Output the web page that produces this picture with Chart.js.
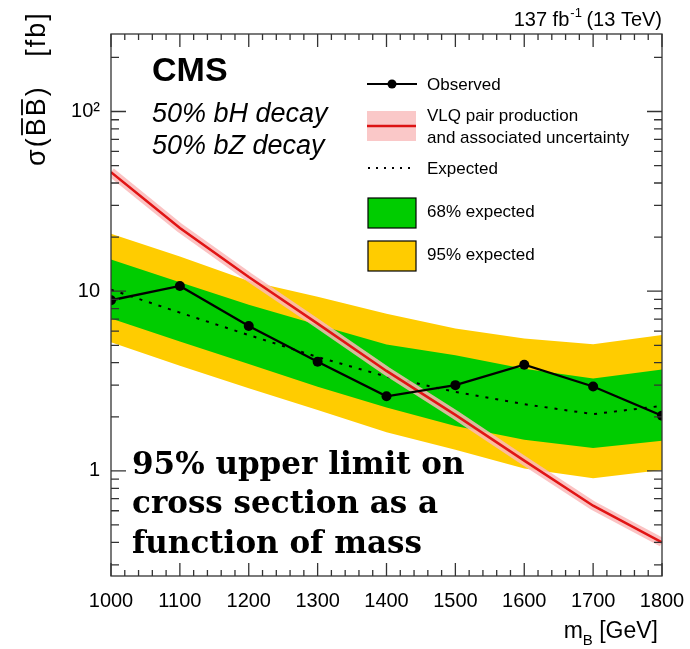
<!DOCTYPE html>
<html>
<head>
<meta charset="utf-8">
<script src="https://cdn.jsdelivr.net/npm/chart.js@4.4.0/dist/chart.umd.min.js"></script>
<style>
  html, body { margin: 0; padding: 0; background: #fff; }
</style>
</head>
<body>
<canvas id="chart" width="690" height="649"></canvas>
<script>
// B mass points (GeV) and limits in fb
const masses = [1000, 1100, 1200, 1300, 1400, 1500, 1600, 1700, 1800];
const observed = [8.9, 10.7, 6.4, 4.05, 2.6, 3.0, 3.9, 2.95, 2.03];
const expected = [10.2, 7.6, 5.7, 4.3, 3.35, 2.75, 2.35, 2.07, 2.3];
const band68Up = [15.0, 11.2, 8.4, 6.5, 5.05, 4.4, 3.7, 3.27, 3.67];
const band68Down = [7.05, 5.25, 3.93, 2.94, 2.25, 1.78, 1.49, 1.34, 1.47];
const band95Up = [20.9, 15.6, 11.4, 9.3, 7.5, 6.2, 5.46, 5.06, 5.7];
const band95Down = [5.2, 3.85, 2.88, 2.18, 1.64, 1.31, 1.03, 0.91, 1.01];
const theory = [46, 22.5, 12, 6.6, 3.6, 2.05, 1.14, 0.64, 0.40];

const yTickValues = [1, 10, 100];
const yTickLabels = ['1', '10', '10\u00B2'];

const pts = arr => masses.map((m, i) => ({x: m, y: arr[i]}));

const SANS = '"Liberation Sans", Arial, sans-serif';

// frame ticks, labels and the hand drawn ROOT style legend
const decor = {
  id: 'decor',
  afterDatasetsDraw(chart) {
    const {ctx, chartArea: a, scales: {x, y}} = chart;
    ctx.save();
    ctx.strokeStyle = '#333';
    ctx.lineWidth = 1.3;
    ctx.strokeRect(a.left, a.top, a.right - a.left, a.bottom - a.top);
    ctx.beginPath();
    for (let m = x.min; m <= x.max; m += 20) {
      const px = x.getPixelForValue(m);
      const len = m % 100 === 0 ? 13 : 6;
      ctx.moveTo(px, a.bottom); ctx.lineTo(px, a.bottom - len);
      ctx.moveTo(px, a.top); ctx.lineTo(px, a.top + len);
    }
    for (let d = -1; d <= 2; d++) {
      for (let k = 1; k <= 9; k++) {
        const v = k * Math.pow(10, d);
        if (v < y.min || v > y.max) continue;
        const py = y.getPixelForValue(v);
        const len = k === 1 ? 15 : 8;
        ctx.moveTo(a.left, py); ctx.lineTo(a.left + len, py);
        ctx.moveTo(a.right, py); ctx.lineTo(a.right - len, py);
      }
    }
    ctx.stroke();

    ctx.fillStyle = '#000';
    ctx.textBaseline = 'alphabetic';
    ctx.textAlign = 'left';

    // lumi label
    const p1 = '137 fb', p2 = '-1', p3 = ' (13 TeV)';
    ctx.font = '20px ' + SANS;
    const w1 = ctx.measureText(p1).width, w3 = ctx.measureText(p3).width;
    ctx.font = '13px ' + SANS;
    const w2 = ctx.measureText(p2).width;
    const lx = a.right - (w1 + w2 + w3);
    ctx.font = '20px ' + SANS;
    ctx.fillText(p1, lx, 26);
    ctx.font = '13px ' + SANS;
    ctx.fillText(p2, lx + w1 + 1, 17);
    ctx.font = '20px ' + SANS;
    ctx.fillText(p3, lx + w1 + w2, 26);

    // x title
    ctx.font = '23px ' + SANS;
    const t1 = 'm', t3 = ' [GeV]';
    const tw1 = ctx.measureText(t1).width, tw3 = ctx.measureText(t3).width;
    ctx.font = '15px ' + SANS;
    const tw2 = ctx.measureText('B').width;
    const tx = a.right - 4 - (tw1 + tw2 + tw3);
    ctx.font = '23px ' + SANS;
    ctx.fillText(t1, tx, 638);
    ctx.font = '15px ' + SANS;
    ctx.fillText('B', tx + tw1, 645);
    ctx.font = '23px ' + SANS;
    ctx.fillText(t3, tx + tw1 + tw2, 638);

    // y title, rotated, with bars over the B's
    ctx.save();
    ctx.translate(45, 166);
    ctx.rotate(-Math.PI / 2);
    ctx.font = '27px ' + SANS;
    ctx.letterSpacing = '2px';
    const pre = '\u03C3(', bb = 'BB', post = ')   [fb]';
    const wp = ctx.measureText(pre).width, wb = ctx.measureText(bb).width;
    ctx.fillText(pre + bb + post, 0, 0);
    ctx.letterSpacing = '0px';
    ctx.lineWidth = 1.8;
    ctx.strokeStyle = '#000';
    ctx.beginPath();
    ctx.moveTo(wp + 1, -23); ctx.lineTo(wp + wb / 2 - 2, -23);
    ctx.moveTo(wp + wb / 2 + 1, -23); ctx.lineTo(wp + wb - 3, -23);
    ctx.stroke();
    ctx.restore();

    // CMS labels
    ctx.font = 'bold 34px ' + SANS;
    ctx.fillText('CMS', 152, 81);
    ctx.font = 'italic 27px ' + SANS;
    ctx.fillText('50% bH decay', 152, 122);
    ctx.fillText('50% bZ decay', 152, 154);

    // legend
    ctx.font = '17px ' + SANS;
    ctx.textBaseline = 'middle';
    ctx.strokeStyle = '#000';
    ctx.lineWidth = 2.2;
    ctx.beginPath(); ctx.moveTo(367, 84); ctx.lineTo(417, 84); ctx.stroke();
    ctx.beginPath(); ctx.arc(392, 84, 4.5, 0, Math.PI * 2); ctx.fill();
    ctx.fillText('Observed', 427, 85);

    ctx.fillStyle = 'rgb(250,200,200)';
    ctx.fillRect(367, 111, 49, 30);
    ctx.strokeStyle = 'rgb(220,20,20)';
    ctx.lineWidth = 2.5;
    ctx.beginPath(); ctx.moveTo(367, 126); ctx.lineTo(416, 126); ctx.stroke();
    ctx.fillStyle = '#000';
    ctx.fillText('VLQ pair production', 427, 116);
    ctx.fillText('and associated uncertainty', 427, 138);

    ctx.strokeStyle = '#000';
    ctx.lineWidth = 2;
    ctx.setLineDash([2, 6]);
    ctx.beginPath(); ctx.moveTo(368, 168); ctx.lineTo(413, 168); ctx.stroke();
    ctx.setLineDash([]);
    ctx.fillText('Expected', 427, 169);

    ctx.lineWidth = 1.2;
    ctx.fillStyle = '#00cc00';
    ctx.fillRect(368, 198, 48, 30);
    ctx.strokeRect(368, 198, 48, 30);
    ctx.fillStyle = '#ffcc00';
    ctx.fillRect(368, 241, 48, 30);
    ctx.strokeRect(368, 241, 48, 30);
    ctx.fillStyle = '#000';
    ctx.fillText('68% expected', 427, 212);
    ctx.fillText('95% expected', 427, 255);

    // caption over the plot
    ctx.textBaseline = 'alphabetic';
    ctx.font = 'bold 31px "DejaVu Serif", Georgia, serif';
    ctx.fillText('95% upper limit on', 132, 474);
    ctx.fillText('cross section as a', 132, 513);
    ctx.fillText('function of mass', 132, 553);
    ctx.restore();
  }
};

const band = (data, color, fill, order) => ({
  data: pts(data), fill: fill, backgroundColor: color, borderColor: 'transparent',
  borderWidth: 0, pointRadius: 0, tension: 0, order: order
});

new Chart(document.getElementById('chart').getContext('2d'), {
  type: 'line',
  data: {
    datasets: [
      band(band95Up, '#ffcc00', '+1', 6),
      band(band95Down, '#ffcc00', false, 6),
      band(band68Up, '#00cc00', '+1', 5),
      band(band68Down, '#00cc00', false, 5),
      {label: 'Expected', data: pts(expected), borderColor: '#000', borderWidth: 2,
       borderDash: [3, 7], pointRadius: 0, fill: false, order: 4},
      {label: 'VLQ band', data: pts(theory), borderColor: 'rgba(250,185,185,0.85)',
       borderWidth: 9, pointRadius: 0, fill: false, order: 3},
      {label: 'VLQ', data: pts(theory), borderColor: 'rgb(225,20,20)',
       borderWidth: 2.5, pointRadius: 0, fill: false, order: 2},
      {label: 'Observed', data: pts(observed), borderColor: '#000', borderWidth: 2.3,
       pointRadius: 5, pointBackgroundColor: '#000', pointBorderWidth: 0, fill: false, order: 1}
    ]
  },
  options: {
    responsive: false,
    animation: false,
    layout: {padding: {top: 34, right: 28, left: 0, bottom: 0}},
    plugins: {legend: {display: false}, tooltip: {enabled: false}},
    scales: {
      x: {
        type: 'linear', min: 1000, max: 1800,
        grid: {display: false}, border: {display: false},
        ticks: {stepSize: 100, color: '#000', padding: 5, maxRotation: 0,
                font: {family: SANS, size: 20}, callback: v => String(v)},
        afterFit: s => { s.height = 73; }
      },
      y: {
        type: 'logarithmic', min: 0.26, max: 270,
        grid: {display: false}, border: {display: false},
        afterBuildTicks: s => { s.ticks = yTickValues.map(v => ({value: v})); },
        ticks: {color: '#000', padding: 3, font: {family: SANS, size: 20},
                callback: v => yTickLabels[yTickValues.indexOf(v)]},
        afterFit: s => { s.width = 111; }
      }
    }
  },
  plugins: [decor]
});
</script>
</body>
</html>
